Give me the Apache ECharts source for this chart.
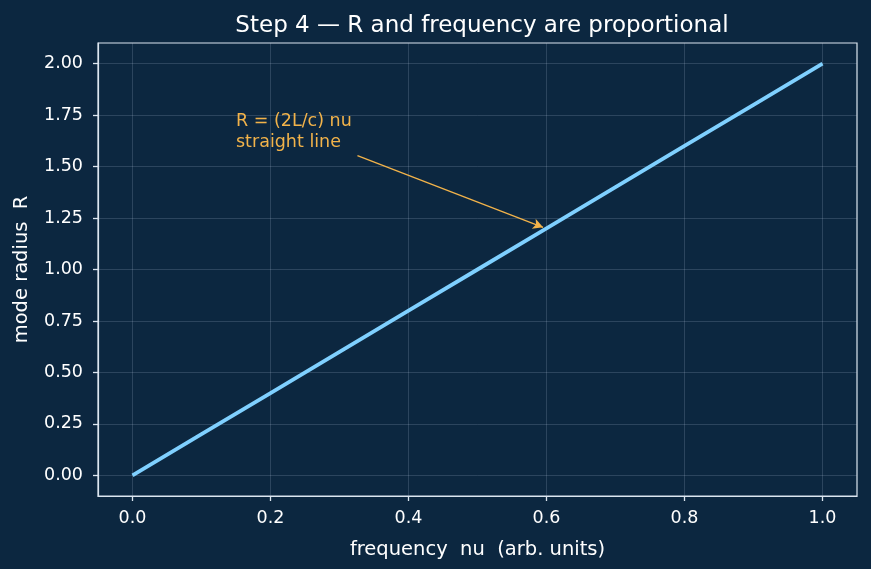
<!DOCTYPE html>
<html>
<head>
<meta charset="utf-8">
<script src="https://cdn.jsdelivr.net/npm/echarts@6/dist/echarts.min.js"></script>
<style>
  html, body { margin: 0; padding: 0; background: #0c2740; }
  #chart { width: 871px; height: 569px; }
</style>
</head>
<body>
<div id="chart"></div>
<script>
  // 数据
  const nuValues = [0, 0.1, 0.2, 0.3, 0.4, 0.5, 0.6, 0.7, 0.8, 0.9, 1.0];
  const radiusValues = [0, 0.2, 0.4, 0.6, 0.8, 1.0, 1.2, 1.4, 1.6, 1.8, 2.0];
  const xTicks = [0, 0.2, 0.4, 0.6, 0.8, 1.0];
  const yTicks = [0, 0.25, 0.5, 0.75, 1.0, 1.25, 1.5, 1.75, 2.0];
  const arrowFrom = [0.326, 1.553];
  const arrowTo = [0.595, 1.205];
  const noteAt = [0.15, 1.6];
  const noteText = 'R = (2L/c) nu\nstraight line';

  const font = 'DejaVu Sans';
  const spine = '#dce6f0';
  const gridColor = 'rgba(200,215,235,0.22)';
  const orange = '#f2b34a';

  let chart = echarts.init(document.getElementById('chart'));
  let option = {
    backgroundColor: '#0c2740',
    animation: false,
    title: {
      text: 'Step 4 — R and frequency are proportional',
      left: 477, top: 10, textAlign: 'center',
      textStyle: { color: '#ffffff', fontFamily: font, fontSize: 23, fontWeight: 'normal' }
    },
    grid: {
      left: 98, right: 14, top: 43, bottom: 73,
      show: true, borderColor: spine, borderWidth: 1.2, backgroundColor: 'transparent'
    },
    xAxis: {
      type: 'value', min: -0.05, max: 1.05,
      name: 'frequency  nu  (arb. units)', nameLocation: 'middle', nameGap: 44,
      nameTextStyle: { color: '#ffffff', fontFamily: font, fontSize: 19.5 },
      axisLine: { show: true, onZero: false, lineStyle: { color: spine, width: 1.2 } },
      axisTick: { show: true, customValues: xTicks, length: 5, lineStyle: { color: spine, width: 1.3 } },
      axisLabel: {
        customValues: xTicks, color: '#ffffff', fontFamily: font, fontSize: 17.5, margin: 13,
        formatter: v => v.toFixed(1)
      },
      splitLine: { show: true, lineStyle: { color: gridColor, width: 0.8 } }
    },
    yAxis: {
      type: 'value', min: -0.1, max: 2.1,
      name: 'mode radius  R', nameLocation: 'middle', nameGap: 66,
      nameTextStyle: { color: '#ffffff', fontFamily: font, fontSize: 19.5 },
      axisLine: { show: true, onZero: false, lineStyle: { color: spine, width: 1.2 } },
      axisTick: { show: true, customValues: yTicks, length: 5, lineStyle: { color: spine, width: 1.3 } },
      axisLabel: {
        customValues: yTicks, color: '#ffffff', fontFamily: font, fontSize: 17.5, margin: 15,
        formatter: v => v.toFixed(2)
      },
      splitLine: { show: true, lineStyle: { color: gridColor, width: 0.8 } }
    },
    series: [
      {
        type: 'line',
        data: nuValues.map((v, i) => [v, radiusValues[i]]),
        showSymbol: false,
        lineStyle: { color: '#7fd0ff', width: 3.8 },
        markLine: {
          silent: true,
          symbol: ['none', 'arrow'],
          symbolSize: [8, 10],
          label: { show: false },
          lineStyle: { color: orange, width: 1.3, type: 'solid' },
          data: [[{ coord: arrowFrom }, { coord: arrowTo }]]
        }
      }
    ]
  };
  chart.setOption(option);

  // 注释文字
  let p = chart.convertToPixel({ gridIndex: 0 }, noteAt);
  chart.setOption({
    graphic: [{
      type: 'text', x: p[0], y: p[1] + 7,
      style: {
        text: noteText, fill: orange, font: '17.5px "DejaVu Sans"',
        textVerticalAlign: 'bottom', lineHeight: 21
      }
    }]
  });
</script>
</body>
</html>
